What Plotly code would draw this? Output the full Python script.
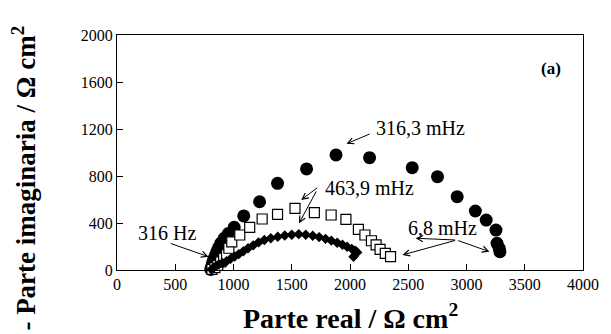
import plotly.graph_objects as go

# Series 1: filled circles
circ_re = [805, 812, 820, 830, 842, 856, 872, 892, 920, 955, 1006, 1088, 1224, 1378, 1627,
           1880, 2168, 2534, 2751, 2920, 3076, 3169, 3253, 3262, 3281, 3287]
circ_im = [5, 30, 60, 90, 120, 155, 190, 228, 270, 310, 363, 460, 581, 738, 860,
           979, 956, 871, 794, 624, 502, 425, 340, 227, 185, 156]

# Series 2: open squares
sq_re = [815, 840, 865, 890, 915, 940, 960, 985, 1054, 1139, 1246, 1378, 1528, 1694, 1838,
         1965, 2072, 2128, 2184, 2224, 2258, 2303, 2348]
sq_im = [5, 20, 40, 70, 100, 130, 185, 240, 298, 363, 434, 474, 525, 488, 468,
         431, 346, 298, 249, 213, 176, 142, 113]

# Series 3: filled diamonds
dia_re = [812, 830, 850, 875, 905, 940, 975, 1010, 1045, 1085, 1125, 1170, 1215, 1265, 1320,
          1380, 1440, 1500, 1560, 1620, 1680, 1735, 1790, 1840, 1890, 1935, 1975, 2015, 2045,
          2062, 2030]
dia_im = [5, 20, 35, 48, 60, 75, 95, 115, 135, 160, 185, 210, 235, 255, 270,
          283, 293, 300, 305, 300, 292, 280, 265, 250, 232, 215, 198, 180, 165,
          150, 113]

x_ticks = [0, 500, 1000, 1500, 2000, 2500, 3000, 3500, 4000]
y_ticks = [0, 400, 800, 1200, 1600, 2000]

serif = '"Times New Roman", "Liberation Serif", Times, serif'

fig = go.Figure()
fig.add_trace(go.Scatter(x=circ_re, y=circ_im, mode="markers",
                         marker=dict(symbol="circle", size=13, color="black"),
                         cliponaxis=False, showlegend=False))
fig.add_trace(go.Scatter(x=sq_re, y=sq_im, mode="markers",
                         marker=dict(symbol="square", size=10, color="white",
                                     line=dict(color="black", width=1.2)),
                         cliponaxis=False, showlegend=False))
fig.add_trace(go.Scatter(x=dia_re, y=dia_im, mode="markers",
                         marker=dict(symbol="diamond", size=8, color="black"),
                         cliponaxis=False, showlegend=False))

axis_common = dict(showline=True, linecolor="black", linewidth=1, mirror=True,
                   ticks="inside", tickcolor="black", ticklen=6, tickwidth=1,
                   showgrid=False, zeroline=False,
                   tickfont=dict(family=serif, size=16, color="black"))

fig.update_xaxes(range=[0, 4000], tickvals=x_ticks, **axis_common)
fig.update_yaxes(range=[0, 2000], tickvals=y_ticks, **axis_common)

annotations = []

def label(x, y, text, size=20, bold=False):
    t = f"<b>{text}</b>" if bold else text
    annotations.append(dict(x=x, y=y, xref="x", yref="y", text=t, showarrow=False,
                            font=dict(family=serif, size=size, color="black"),
                            xanchor="center", yanchor="middle"))

def arrow(tx, ty, hx, hy):
    annotations.append(dict(x=hx, y=hy, ax=tx, ay=ty, xref="x", yref="y",
                            axref="x", ayref="y", text="", showarrow=True,
                            arrowhead=5, arrowsize=1.2, arrowwidth=1,
                            arrowcolor="black", standoff=0))

label(431, 315, "316 Hz")
arrow(448, 230, 786, 113)
label(2605, 1208, "316,3 mHz")
arrow(2182, 1163, 1970, 1074)
label(2165, 695, "463,9 mHz")
arrow(1731, 709, 1581, 596)
arrow(1717, 681, 1562, 397)
label(2795, 355, "6,8 mHz")
arrow(2915, 255, 2563, 270)
arrow(2915, 255, 2450, 128)
arrow(2915, 255, 3197, 156)
label(3721, 1719, "(a)", size=17, bold=True)

# axis titles
annotations.append(dict(x=0.5, y=-0.196, xref="paper", yref="paper",
                        text="<b>Parte real / Ω cm<sup>2</sup></b>", showarrow=False,
                        font=dict(family=serif, size=28, color="black"),
                        xanchor="center", yanchor="middle"))
annotations.append(dict(x=-0.199, y=0.39, xref="paper", yref="paper",
                        text="<b>- Parte imaginaria / Ω cm<sup>2</sup></b>", showarrow=False,
                        textangle=-90,
                        font=dict(family=serif, size=27, color="black"),
                        xanchor="center", yanchor="middle"))

fig.update_layout(width=611, height=334,
                  margin=dict(l=117, r=21, t=35, b=64),
                  paper_bgcolor="white", plot_bgcolor="white",
                  annotations=annotations)

fig.write_html("out.html", config={"displayModeBar": False},
               post_script="document.body.style.margin='0';document.body.style.padding='0';")
